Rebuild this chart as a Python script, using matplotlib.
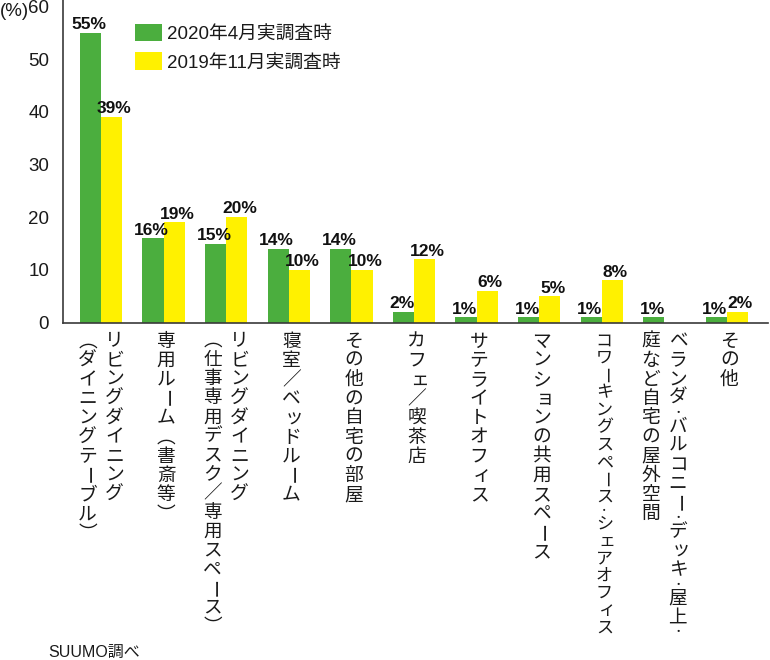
import matplotlib
matplotlib.use("Agg")
import matplotlib.pyplot as plt
from matplotlib.transforms import blended_transform_factory, offset_copy
from matplotlib.font_manager import findfont, FontProperties
from matplotlib.ft2font import FT2Font
import numpy as np

# ---------------- data ----------------
categories = [
    "リビングダイニング\n（ダイニングテーブル）",
    "専用ルーム（書斎等）",
    "リビングダイニング\n（仕事専用デスク／専用スペース）",
    "寝室／ベッドルーム",
    "その他の自宅の部屋",
    "カフェ／喫茶店",
    "サテライトオフィス",
    "マンションの共用スペース",
    "コワーキングスペース・シェアオフィス",
    "ベランダ・バルコニー・デッキ・屋上・\n庭など自宅の屋外空間",
    "その他",
]
apr2020 = [55, 16, 15, 14, 14, 2, 1, 1, 1, 1, 1]
nov2019 = [39, 19, 20, 10, 10, 12, 6, 5, 8, None, 2]
series_labels = ["2020年4月実調査時", "2019年11月実調査時"]
yticks = [0, 10, 20, 30, 40, 50, 60]
unit_label = "(%)"
source_label = "SUUMO調べ"

# ---------------- style ----------------
GREEN = "#4bae3e"
YELLOW = "#fff100"
AXIS = "#3a3a3a"
JP = ["Noto Sans CJK JP", "DejaVu Sans"]
LAT = ["Liberation Sans", "Noto Sans CJK JP", "DejaVu Sans"]
NUM = ["Liberation Sans Narrow", "Liberation Sans", "DejaVu Sans"]

W, H = 770, 660
fig = plt.figure(figsize=(W / 100, H / 100), dpi=100)
ax_bottom_px = 322.6
ax = fig.add_axes([63 / W, 1 - ax_bottom_px / H, 705 / W, ax_bottom_px / H])

n = len(categories)
x = np.arange(n)
bw = 0.34

g_vals = np.array(apr2020, dtype=float)
y_mask = np.array([v is not None for v in nov2019])
y_vals = np.array([v for v in nov2019 if v is not None], dtype=float)

ax.bar(x - bw / 2, g_vals, bw, color=GREEN, label=series_labels[0], zorder=2)
ax.bar(x[y_mask] + bw / 2, y_vals, bw, color=YELLOW, label=series_labels[1], zorder=2)

ax.set_xlim(-0.607, 10.655)
ax.set_ylim(0, 61.2)

for xi, v in zip(x - bw / 2, g_vals):
    ax.annotate(f"{int(v)}%", (xi, v), xytext=(-1, 0.5), textcoords="offset points",
                ha="center", va="bottom", fontsize=12.5, fontweight="bold",
                family=NUM, color="#111111")
for xi, v in zip(x[y_mask] + bw / 2, y_vals):
    ax.annotate(f"{int(v)}%", (xi, v), xytext=(2, 0.5), textcoords="offset points",
                ha="center", va="bottom", fontsize=12.5, fontweight="bold",
                family=NUM, color="#111111")

# axes styling
for s in ["top", "right"]:
    ax.spines[s].set_visible(False)
for s in ["left", "bottom"]:
    ax.spines[s].set_color(AXIS)
    ax.spines[s].set_linewidth(1.2)
ax.set_xticks([])
ax.set_yticks(yticks)
ax.set_yticklabels([str(t) for t in yticks], family=LAT, fontsize=13.5, color="#1a1a1a")
ax.tick_params(axis="y", length=0, pad=10)

fig.text(0, 1 - 12 / H, unit_label, ha="left", va="center", fontsize=13.5,
         family=LAT, color="#1a1a1a")

# legend
leg = ax.legend(loc="upper left", bbox_to_anchor=(135 / W, 1 - 24 / H),
                bbox_transform=fig.transFigure, frameon=False,
                prop={"family": LAT, "size": 13.5},
                handlelength=1.44, handleheight=1.05, handletextpad=0.25,
                labelspacing=0.5, borderpad=0, borderaxespad=0)
for t in leg.get_texts():
    t.set_color("#1a1a1a")

# vertical category labels (tategaki)
try:
    _f = FT2Font(findfont(FontProperties(family="Noto Sans CJK JP")))
    HAS_VFORMS = _f.get_char_index(0xFE35) != 0 and _f.get_char_index(0xFE36) != 0
except Exception:
    HAS_VFORMS = False
VFORM = {"（": "\ufe35", "）": "\ufe36"} if HAS_VFORMS else {}
SMALL = set("ァィゥェォッャュョヮヵヶぁぃぅぇぉっゃゅょ")
ROT = set("ー〜～－") | (set() if HAS_VFORMS else set("（）"))
HALF = set("・")
FS = 13.5
PITCH = 19.2
TOP_PX = 331.5
MAXLEN = 305.0
trans = blended_transform_factory(ax.transData, fig.transFigure)


def vtext(xc, text):
    adv = [PITCH * 0.5 if c in HALF else PITCH for c in text]
    total = sum(adv)
    s = min(1.0, MAXLEN / total)
    fs = FS * s
    small_trans = offset_copy(trans, fig=fig, x=2.2 * s, y=0, units="points")
    y = TOP_PX
    for c, a in zip(text, adv):
        a *= s
        cy = y + a / 2
        rot = -90 if c in ROT else 0
        tr = small_trans if c in SMALL else trans
        ch = VFORM.get(c, c)
        if c in HALF:
            fig.text(xc, 1 - cy / H, ch, transform=tr, ha="center", va="center",
                     fontsize=fs * 0.5, fontweight="bold", family=JP, color="#1a1a1a")
        else:
            fig.text(xc, 1 - cy / H, ch, transform=tr, ha="center", va="center",
                     rotation=rot, fontsize=fs, family=JP, color="#1a1a1a")
        y += a


col_off = 13.5 / 62.6
for i, label in enumerate(categories):
    cols = label.split("\n")
    if len(cols) == 1:
        vtext(i + 0.04, cols[0])
    else:
        vtext(i + col_off, cols[0])
        vtext(i - col_off, cols[1])

fig.text(48 / W, 1 - 652 / H, source_label, ha="left", va="center", fontsize=11.5,
         family=LAT, color="#1a1a1a")

fig.savefig("out.png", dpi=100, facecolor="white")
